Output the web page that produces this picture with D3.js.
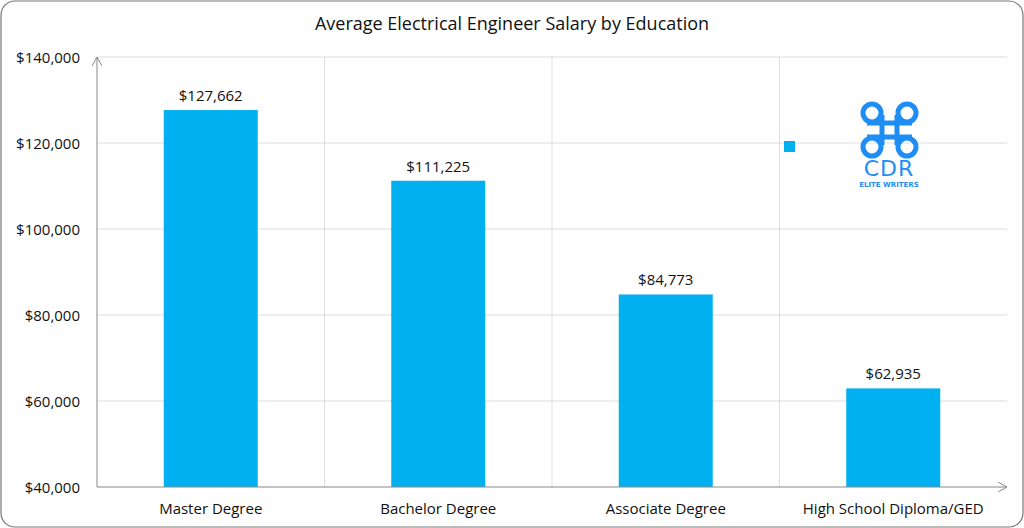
<!DOCTYPE html>
<html><head><meta charset="utf-8">
<script src="https://cdn.jsdelivr.net/npm/d3@7"></script>
<style>body{margin:0;background:#fff}</style></head>
<body><svg id="c" width="1024" height="528"></svg>
<script>
const categories=["Master Degree","Bachelor Degree","Associate Degree","High School Diploma/GED"];
const salaries=[127662,111225,84773,62935];
const yTicks=[40000,60000,80000,100000,120000,140000];
const svg=d3.select("#c");
const font="Aptos, 'Open Sans', 'Liberation Sans', sans-serif";
svg.append("rect").attr("x",1).attr("y",1).attr("width",1022).attr("height",526).attr("rx",14).attr("fill","#fff").attr("stroke","#777").attr("stroke-width",1.2);
svg.append("text").attr("x",512).attr("y",30).attr("text-anchor","middle").attr("font-family",font).attr("font-size",18).attr("fill","#111").text("Average Electrical Engineer Salary by Education");
const L=97,R=1007,T=57,B=487;
const x=d3.scaleBand().domain(categories).range([L,L+4*227.5]).paddingInner(0).paddingOuter(0);
const y=d3.scaleLinear().domain([40000,140000]).range([B,T]);
const g=svg.append("g");
yTicks.forEach(t=>{if(t>40000)g.append("line").attr("x1",L).attr("x2",R).attr("y1",y(t)).attr("y2",y(t)).attr("stroke","#ddd");});
categories.slice(1).forEach(c=>g.append("line").attr("x1",x(c)).attr("x2",x(c)).attr("y1",T).attr("y2",B).attr("stroke","#ddd"));
yTicks.forEach(t=>g.append("text").attr("x",80).attr("y",y(t)+6).attr("text-anchor","end").attr("font-family",font).attr("font-size",15).attr("fill","#111").text("$"+d3.format(",")(t)));
const bw=94;
categories.forEach((c,i)=>{
 const cx=x(c)+x.bandwidth()/2;
 g.append("rect").attr("x",cx-bw/2).attr("y",y(salaries[i])).attr("width",bw).attr("height",B-y(salaries[i])).attr("fill","#00b0f0");
 g.append("text").attr("x",cx).attr("y",y(salaries[i])-9).attr("text-anchor","middle").attr("font-family",font).attr("font-size",15).attr("fill","#111").text("$"+d3.format(",")(salaries[i]));
 g.append("text").attr("x",cx).attr("y",B+27).attr("text-anchor","middle").attr("font-family",font).attr("font-size",15).attr("fill","#111").text(c);
});
svg.append("defs").append("marker").attr("id","ar").attr("viewBox","0 0 10 10").attr("refX",9).attr("refY",5).attr("markerWidth",10).attr("markerHeight",10).attr("orient","auto")
 .append("path").attr("d","M0,0 L9,5 L0,10").attr("fill","none").attr("stroke","#888").attr("stroke-width",1);
g.append("line").attr("x1",L).attr("x2",L).attr("y1",B).attr("y2",T).attr("stroke","#888").attr("marker-end","url(#ar)");
g.append("line").attr("x1",L).attr("x2",R).attr("y1",B).attr("y2",B).attr("stroke","#888").attr("marker-end","url(#ar)");
svg.append("rect").attr("x",784).attr("y",141).attr("width",11).attr("height",11).attr("fill","#00b0f0");
const lg=svg.append("g").attr("fill","none").attr("stroke","#1e8ef5").attr("stroke-width",5);
lg.append("path").attr("d","M882,115 L882,145 M897,115 L897,145 M867,123 L912,123 M867,137 L912,137");
[[872,113],[907,113],[872,147],[907,147]].forEach(([cx,cy])=>lg.append("circle").attr("cx",cx).attr("cy",cy).attr("r",9));
svg.append("text").attr("x",889).attr("y",176).attr("text-anchor","middle").attr("font-family","'DejaVu Sans'").attr("font-size",22).attr("fill","#1e8ef5").attr("letter-spacing",1).text("CDR");
svg.append("text").attr("x",889).attr("y",187).attr("text-anchor","middle").attr("font-family","'DejaVu Sans'").attr("font-weight","bold").attr("font-size",7).attr("fill","#1e8ef5").text("ELITE WRITERS");
</script></body></html>
